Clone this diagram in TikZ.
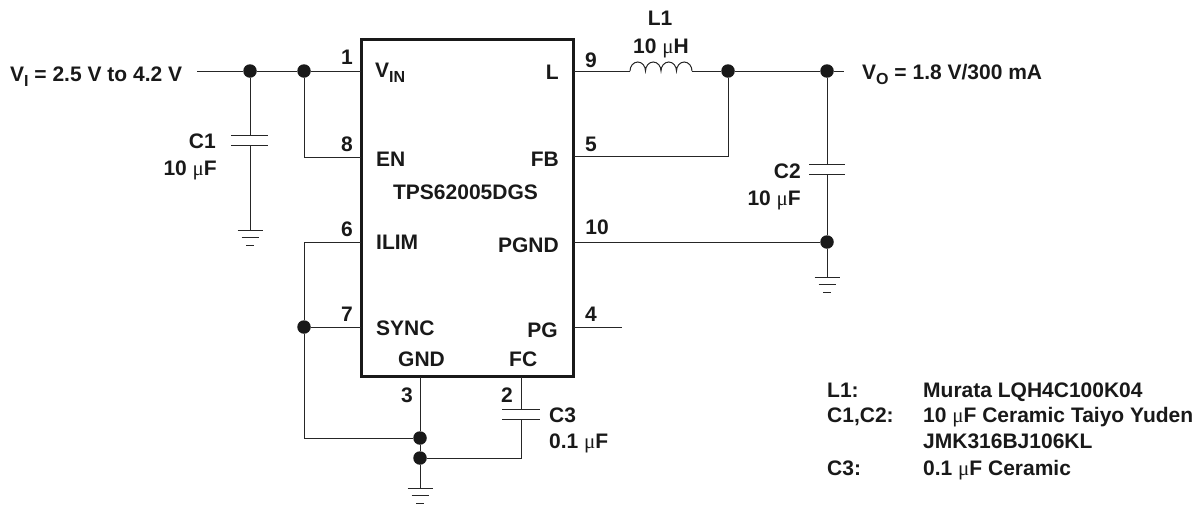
\documentclass[tikz,border=0pt]{standalone}
\usepackage{fontspec}
\setmainfont{Liberation Sans}[BoldFont={Liberation Sans Bold}]
\newfontfamily\muserif{Liberation Serif}
\newcommand{\um}{{\muserif\mdseries μ}}
\newcommand{\subs}[1]{\raisebox{-5pt}{\fontsize{16}{16}\selectfont #1}}
\tikzset{
  x=1pt,y=-1pt,
  wire/.style={line width=1pt,draw=black!85},
  chip/.style={line width=3pt,draw=black!90,line join=miter},
  dot/.style={circle,fill=black!90,inner sep=0pt,minimum size=13.5pt},
  lab/.style={font=\fontsize{21}{25}\selectfont\bfseries,inner sep=0pt,anchor=base west,text=black!90},
  labr/.style={lab,anchor=base east},
  labc/.style={lab,anchor=base},
}
\newcommand{\gnd}[2]{% x, top y
  \draw[wire] (#1-12.5,#2) -- (#1+12.5,#2);
  \draw[wire] (#1-8.5,#2+7.5) -- (#1+8.5,#2+7.5);
  \draw[wire] (#1-4,#2+15) -- (#1+4,#2+15);
}
\begin{document}
\begin{tikzpicture}
\useasboundingbox (0,0) rectangle (1203,504);
% chip
\node[chip,draw,rectangle,outer sep=0pt,minimum width=212pt,minimum height=337pt,inner sep=0pt,anchor=north west] (ic) at (361.5,39.5) {};
% junctions
\node[dot] (j1) at (250,71) {};
\node[dot] (j2) at (304,71) {};
\node[dot] (j3) at (728,71) {};
\node[dot] (j4) at (827,71) {};
\node[dot] (j5) at (827,242) {};
\node[dot] (j6) at (304,327) {};
\node[dot] (j7) at (420,438) {};
\node[dot] (j8) at (420,458) {};
% free points
\coordinate (in) at (197,71);
\coordinate (out) at (844,71);
\coordinate (p1) at (361,71);
\coordinate (p8) at (361,157);
\coordinate (p6) at (361,242);
\coordinate (p7) at (361,327);
\coordinate (p9) at (574,71);
\coordinate (p5) at (574,156);
\coordinate (p10) at (574,242);
\coordinate (p4) at (574,327);
\coordinate (p4e) at (622,327);
\coordinate (p3) at (420,377);
\coordinate (p2) at (521,377);
\coordinate (c1a) at (250,135.5); \coordinate (c1b) at (250,145.5);
\coordinate (g1) at (250,230);
\coordinate (c2a) at (827,164); \coordinate (c2b) at (827,174);
\coordinate (g2) at (827,277);
\coordinate (c3a) at (521,409); \coordinate (c3b) at (521,419);
\coordinate (g3) at (420,488);
\coordinate (la) at (630,71); \coordinate (lb) at (692,71);
% wires
\draw[wire] (in) -- (j1) -- (j2) -- (p1);
\draw[wire] (j2) |- (p8);
\draw[wire] (j1) -- (c1a);
\draw[wire] (c1b) -- (g1);
\draw[wire] (p6) -| (j6);
\draw[wire] (j6) -- (p7);
\draw[wire] (j6) |- (j7);
\draw[wire] (p3) -- (j7) -- (j8) -- (g3);
\draw[wire] (p2) -- (c3a);
\draw[wire] (c3b) |- (j8);
\draw[wire] (p9) -- (la);
\draw[wire] (lb) -- (j3) -- (j4) -- (out);
\draw[wire] (p5) -| (j3);
\draw[wire] (j4) -- (c2a);
\draw[wire] (c2b) -- (j5) -- (g2);
\draw[wire] (p10) -- (j5);
\draw[wire] (p4) -- (p4e);
% inductor
\draw[wire] (la) arc[start angle=180,end angle=0,x radius=7.75,y radius=-9] arc[start angle=180,end angle=0,x radius=7.75,y radius=-9] arc[start angle=180,end angle=0,x radius=7.75,y radius=-9] arc[start angle=180,end angle=0,x radius=7.75,y radius=-9];
% capacitor plates
\draw[wire] (231,135.5) -- (268,135.5) (231,145.5) -- (268,145.5);
\draw[wire] (809,164) -- (845,164) (809,174) -- (845,174);
\draw[wire] (502,409) -- (540,409) (502,419) -- (540,419);
% grounds
\gnd{250}{230}
\gnd{827}{277}
\gnd{420}{488}
% labels outside
\node[lab] (vi) at (10,81) {V\subs{I} = 2.5 V to 4.2 V};
\node[lab] (vo) at (862,79) {V\subs{O} = 1.8 V/300 mA};
\node[labr] (c1l) at (216,148) {C1};
\node[labr] (c1v) at (217,175) {10 \um F};
\node[labc] (l1l) at (660,25) {L1};
\node[labc] (l1v) at (661,53) {10 \um H};
\node[labr] (c2l) at (801,178) {C2};
\node[labr] (c2v) at (801,205) {10 \um F};
\node[lab] (c3l) at (549,422) {C3};
\node[lab] (c3v) at (549,448) {0.1 \um F};
% pin numbers
\node[labc] (n1) at (347,64) {1};
\node[labc] (n8) at (347,151) {8};
\node[labc] (n6) at (347,236) {6};
\node[labc] (n7) at (347,321) {7};
\node[labc] (n9) at (591,67) {9};
\node[labc] (n5) at (591,151) {5};
\node[labc] (n10) at (597,234) {10};
\node[labc] (n4) at (591,321) {4};
\node[labc] (n3) at (407,402) {3};
\node[labc] (n2) at (507,402) {2};
% pin names
\node[lab] (vin) at (375,77) {V\subs{IN}};
\node[lab] (en) at (376,166) {EN};
\node[lab] (il) at (376,249) {ILIM};
\node[lab] (sy) at (376,335) {SYNC};
\node[labr] (lp) at (559,79) {L};
\node[labr] (fb) at (559,166) {FB};
\node[labr] (pg) at (559,252) {PGND};
\node[labr] (pp) at (558,337) {PG};
\node[lab] (gn) at (398,366) {GND};
\node[lab] (fc) at (509,366) {FC};
\node[labc] (tp) at (465.5,199) {TPS62005DGS};
% notes
\node[lab] (na) at (827,397) {L1:};
\node[lab] (nb) at (923,397) {Murata LQH4C100K04};
\node[lab] (nc) at (827,422) {C1,C2:};
\node[lab] (nd) at (923,422) {10 \um F Ceramic Taiyo Yuden};
\node[lab] (ne) at (923,448) {JMK316BJ106KL};
\node[lab] (nf) at (827,475) {C3:};
\node[lab] (ng) at (923,475) {0.1 \um F Ceramic};
\end{tikzpicture}
\end{document}
